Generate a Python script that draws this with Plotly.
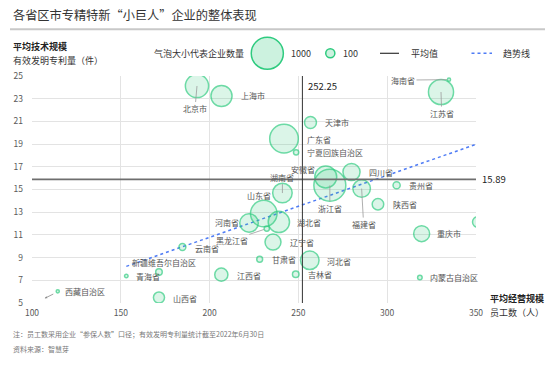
import numpy as np
import plotly.graph_objects as go

# ---------------- data ----------------
provinces = ["北京市", "上海市", "天津市", "广东省", "宁夏回族自治区", "浙江省", "安徽省", "四川省",
             "福建省", "陕西省", "贵州省", "广西壮族自治区", "重庆市", "内蒙古自治区", "海南省", "江苏省",
             "湖南省", "山东省", "河南省", "湖北省", "黑龙江省", "辽宁省", "云南省", "甘肃省", "河北省",
             "江西省", "吉林省", "山西省", "青海省", "新疆维吾尔自治区", "西藏自治区"]
employees = [192.9, 206.7, 256.8, 241.9, 248.7, 267.7, 265.4, 279.9,
             285.6, 294.8, 305.3, 351.0, 319.4, 318.4, 334.8, 330.3,
             241.0, 230.5, 222.2, 239.0, 232.2, 235.7, 184.7, 228.2, 256.4,
             206.6, 248.5, 171.5, 153.1, 171.5, 114.5]
patents = [24.12, 23.24, 20.90, 19.48, 18.28, 15.37, 16.10, 16.54,
           15.08, 13.70, 15.37, 12.14, 11.11, 7.24, 24.68, 23.59,
           14.69, 12.88, 12.05, 12.14, 11.56, 10.37, 9.93, 8.85, 8.76,
           7.50, 7.53, 5.48, 7.38, 7.73, 6.03]
companies = [540, 450, 160, 800, 40, 990, 485, 305,
             320, 150, 66, 128, 270, 32, 19, 625,
             390, 695, 355, 460, 40, 270, 62, 48, 355,
             190, 57, 140, 22, 57, 19]
mean_x = 252.25
mean_y = 15.89
trend_x = [153.1, 350.0]
trend_y = [8.23, 18.98]
x_ticks = [100, 150, 200, 250, 300, 350]
y_ticks = [5, 7, 9, 11, 13, 15, 17, 19, 21, 23, 25]
legend_counts = [1000, 100]

# ---------------- style ----------------
W, H = 554, 366
ML, MR, MT, MB = 32, 78, 76, 63
PW, PH = W - ML - MR, H - MT - MB
FONT = "Noto Sans CJK SC, Microsoft YaHei, sans-serif"
R1000 = 16.8
LW = 1.5
GREEN_LINE = "#2ecb7f"
GREEN_FILL = "rgba(52,205,127,0.25)"
LABEL_C = "#555555"


def bubble_size(n):
    return 2 * R1000 * np.sqrt(np.asarray(n) / 1000.0) - LW


def px2x(px):
    return (px - ML) / PW


def px2y(py):
    return (H - MB - py) / PH


# label placement: (kind, dx, dy, xanchor, standoff)  dy: +down (pixels)
placement = {
    "北京市": ("arrow", -2, 23, "center", 0),
    "上海市": ("text", 17.6, 0, "left", 0),
    "天津市": ("text", 12.6, 0, "left", 0),
    "广东省": ("text", 20.7, 0.7, "left", 0),
    "宁夏回族自治区": ("text", 8.7, 0, "left", 0),
    "浙江省": ("arrow", 0, 23, "center", 0),
    "安徽省": ("text", -23, -8, "center", 0),
    "四川省": ("text", 15.6, 0, "left", 0),
    "福建省": ("arrow", 2, 36, "center", 0),
    "陕西省": ("text", 12.7, 0, "left", 0),
    "贵州省": ("text", 10, 0, "left", 0),
    "广西壮族自治区": ("arrow", -43, -6, "center", 6),
    "重庆市": ("text", 13.3, 0, "left", 0),
    "内蒙古自治区": ("text", 8.3, 0, "left", 0),
    "海南省": ("arrow", -46, 0.5, "center", 2),
    "江苏省": ("arrow", 0.7, 21.6, "center", 0),
    "湖南省": ("arrow", 0, -16, "center", 0),
    "山东省": ("text", -5, -18.3, "center", 0),
    "河南省": ("text", -7.6, 0, "right", 0),
    "湖北省": ("text", 16, 1, "left", 0),
    "黑龙江省": ("arrow", -35, 11.7, "center", 3),
    "辽宁省": ("text", 15, 0.6, "left", 0),
    "云南省": ("text", 10.6, 1, "left", 0),
    "甘肃省": ("text", 10, 0.3, "left", 0),
    "河北省": ("text", 15, 0.7, "left", 0),
    "江西省": ("text", 13.3, 0.7, "left", 0),
    "吉林省": ("text", 10.7, 0.3, "left", 0),
    "山西省": ("text", 11.7, 1, "left", 0),
    "青海省": ("text", 7.3, 1, "left", 0),
    "新疆维吾尔自治区": ("text", 5, -10, "center", 0),
    "西藏自治区": ("text", 5.7, 0, "left", 0),
}

fig = go.Figure()

# trend line
fig.add_trace(go.Scatter(
    x=trend_x, y=trend_y, mode="lines",
    line=dict(color="#4f7cf5", width=1.5, dash="dot"),
    hoverinfo="skip", showlegend=False))

# bubbles
fig.add_trace(go.Scatter(
    x=employees, y=patents, mode="markers",
    marker=dict(size=bubble_size(companies), color=GREEN_FILL,
                line=dict(color=GREEN_LINE, width=LW)),
    text=provinces, hoverinfo="text", showlegend=False))

annotations = []
for name, xv, yv in zip(provinces, employees, patents):
    kind, dx, dy, xa, so = placement[name]
    if kind == "text":
        annotations.append(dict(
            x=xv, y=yv, xref="x", yref="y", text=name, showarrow=False,
            xanchor=xa, yanchor="middle", xshift=dx, yshift=-dy,
            font=dict(size=8, color=LABEL_C, family=FONT)))
    else:
        annotations.append(dict(
            x=xv, y=yv, xref="x", yref="y", text=name, showarrow=True,
            ax=dx, ay=dy, arrowhead=0, arrowwidth=0.8, arrowcolor="#9a9a9a",
            standoff=so, font=dict(size=8, color=LABEL_C, family=FONT)))

# Tibet small arrow
annotations.append(dict(
    x=employees[-1], y=patents[-1], xref="x", yref="y", text="", showarrow=True,
    ax=10, ay=-5, xshift=-13, yshift=-7, arrowhead=2, arrowsize=0.6,
    arrowwidth=0.8, arrowcolor="#888888"))

# mean labels
annotations.append(dict(x=mean_x, y=px2y(86), xref="x", yref="paper", text=f"{mean_x:.2f}",
                        showarrow=False, xanchor="left", yanchor="middle", xshift=4,
                        font=dict(size=9.5, color="#222222", family=FONT)))
annotations.append(dict(x=1, y=mean_y, xref="paper", yref="y", text=f"{mean_y:.2f}",
                        showarrow=False, xanchor="left", yanchor="middle", xshift=4,
                        font=dict(size=9.5, color="#222222", family=FONT)))


def paper_text(px, py, text, size, color="#333333", bold=False, anchor="left"):
    annotations.append(dict(
        x=px2x(px), y=px2y(py), xref="paper", yref="paper",
        text=f"<b>{text}</b>" if bold else text, showarrow=False,
        xanchor=anchor, yanchor="middle",
        font=dict(size=size, color=color, family=FONT)))


# title and axis titles
paper_text(11, 15, "各省区市专精特新“小巨人”企业的整体表现", 12.2, "#333333")
paper_text(11, 46, "平均技术规模", 9, "#222222", bold=True)
paper_text(11, 61, "有效发明专利量（件）", 9, "#333333")
paper_text(488, 298, "平均经营规模", 9, "#222222", bold=True)
paper_text(488, 312, "员工数（人）", 9, "#333333")
# footnotes
paper_text(11, 334, "注：员工数采用企业“参保人数”口径；有效发明专利量统计截至2022年6月30日", 7, "#777777")
paper_text(11, 349, "资料来源：智慧芽", 7, "#777777")

# legend
LEG_Y = 53.3
paper_text(152, LEG_Y, "气泡大小代表企业数量", 9, "#333333")
paper_text(288.5, LEG_Y, str(legend_counts[0]), 9, "#333333")
paper_text(341, LEG_Y, str(legend_counts[1]), 9, "#333333")
paper_text(408.5, LEG_Y, "平均值", 9, "#333333")
paper_text(500.5, LEG_Y, "趋势线", 9, "#333333")

shapes = []
for cx, n in zip([267.3, 330.3], legend_counts):
    r = bubble_size(n) / 2
    shapes.append(dict(type="circle", xref="paper", yref="paper",
                       xsizemode="pixel", ysizemode="pixel",
                       xanchor=px2x(cx), yanchor=px2y(LEG_Y),
                       x0=-r, x1=r, y0=-r, y1=r,
                       fillcolor=GREEN_FILL, line=dict(color=GREEN_LINE, width=LW)))
shapes.append(dict(type="line", xref="paper", yref="paper", x0=px2x(380), x1=px2x(399),
                   y0=px2y(LEG_Y), y1=px2y(LEG_Y), line=dict(color="#333333", width=1.2)))
shapes.append(dict(type="line", xref="paper", yref="paper", x0=px2x(471.5), x1=px2x(492),
                   y0=px2y(LEG_Y), y1=px2y(LEG_Y), line=dict(color="#4f7cf5", width=1.5, dash="dot")))
# title underline
shapes.append(dict(type="line", xref="paper", yref="paper", x0=px2x(10), x1=px2x(545),
                   y0=px2y(29.3), y1=px2y(29.3), line=dict(color="#c8c8c8", width=2)))
# mean lines
shapes.append(dict(type="line", xref="paper", yref="y", x0=0, x1=1, y0=mean_y, y1=mean_y,
                   line=dict(color="#6e6e6e", width=1.8)))
shapes.append(dict(type="line", xref="x", yref="paper", x0=mean_x, x1=mean_x, y0=0, y1=1,
                   line=dict(color="#333333", width=1)))

fig.update_layout(
    width=W, height=H,
    margin=dict(l=ML, r=MR, t=MT, b=MB, pad=0),
    paper_bgcolor="white", plot_bgcolor="white",
    font=dict(family=FONT, color="#595959"),
    annotations=annotations, shapes=shapes,
    xaxis=dict(range=[100, 350], tickvals=x_ticks, showgrid=True, gridcolor="#e3e3e3",
               gridwidth=1, zeroline=False, showline=False,
               tickfont=dict(size=8.5, color="#595959", family=FONT),
               ticks="", ticklabelstandoff=3),
    yaxis=dict(range=[5, 25], tickvals=y_ticks, showgrid=True, gridcolor="#e3e3e3",
               gridwidth=1, zeroline=False, showline=False,
               tickfont=dict(size=8.5, color="#595959", family=FONT),
               ticks="", ticklabelstandoff=8),
    showlegend=False,
)

fig.write_html("out.html", config={"displayModeBar": False},
               post_script="document.body.style.margin='0';")
